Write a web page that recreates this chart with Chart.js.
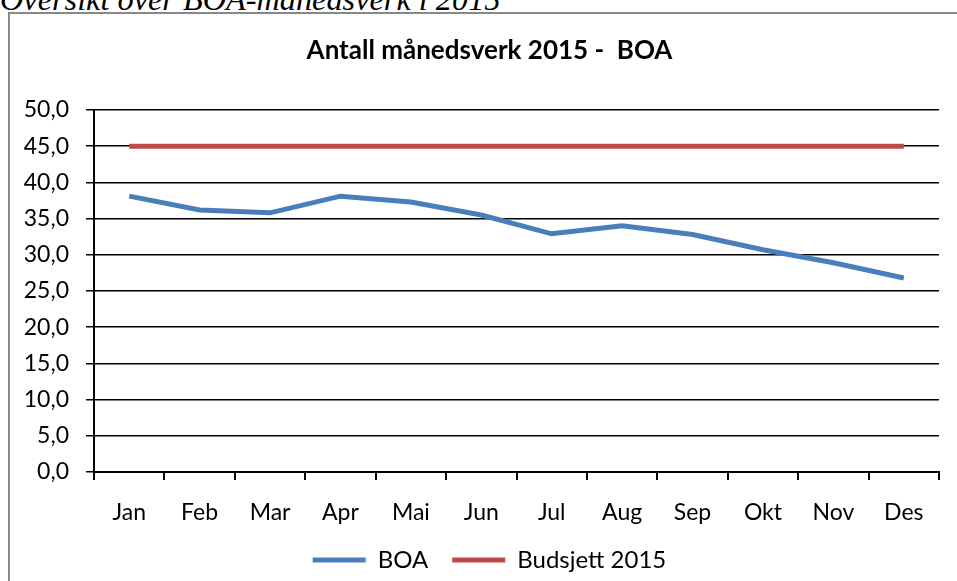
<!DOCTYPE html>
<html><head><meta charset="utf-8">
<script src="https://cdn.jsdelivr.net/npm/chart.js@4/dist/chart.umd.min.js"></script>
<style>
html,body{margin:0;padding:0;background:#fff;overflow:hidden;}
#wrap{position:relative;width:957px;height:581px;overflow:hidden;background:#fff;}
#caption{position:absolute;left:0;top:-17px;font-family:"Liberation Serif";font-style:italic;font-size:32.3px;line-height:32px;white-space:nowrap;color:#000;}
#frame{position:absolute;left:8px;top:12px;width:1000px;height:700px;border:2px solid #888;}
canvas{position:absolute;left:0;top:0;}
</style></head>
<body>
<div id="wrap">
<div id="caption">Oversikt over BOA-månedsverk i 2015</div>
<div id="frame"></div>
<canvas id="c" width="957" height="581"></canvas>
</div>
<script>
const months = ["Jan","Feb","Mar","Apr","Mai","Jun","Jul","Aug","Sep","Okt","Nov","Des"];
const boaValues = [38.1, 36.2, 35.8, 38.1, 37.3, 35.5, 32.9, 34.0, 32.8, 30.7, 28.9, 26.8];
const budsjettValues = [45, 45, 45, 45, 45, 45, 45, 45, 45, 45, 45, 45];
const seriesNames = ["BOA", "Budsjett 2015"];
const chartTitle = "Antall månedsverk 2015 -  BOA";
const yMin = 0, yMax = 50, yStep = 5;

const FONT = "Lato";
const noClip = () => undefined;
const LEGEND_PAD = 24;
const LEGEND_H = 581 - (560 - LEGEND_PAD - 12);

const legendFix = {
  id: 'legendFix',
  afterInit(chart) {
    const lg = chart.legend;
    if (!lg) return;
    const orig = lg.fit.bind(lg);
    lg.fit = function() { orig(); this.height = LEGEND_H; };
  }
};

new Chart(document.getElementById('c'), {
  type: 'line',
  data: {
    labels: months,
    datasets: [
      { label: seriesNames[0], data: boaValues, borderColor: '#4A7EBB', backgroundColor: '#4A7EBB', borderWidth: 5, pointRadius: 0, tension: 0 },
      { label: seriesNames[1], data: budsjettValues, borderColor: '#BE4B48', backgroundColor: '#BE4B48', borderWidth: 5, pointRadius: 0, tension: 0 }
    ]
  },
  options: {
    responsive: false,
    animation: false,
    layout: { padding: { left: 40, right: 18, top: 20, bottom: 0 } },
    plugins: {
      tooltip: { enabled: false },
      title: {
        display: true, text: chartTitle, color: '#000',
        font: { family: FONT, size: 26, weight: 'bold' },
        padding: { top: 15, bottom: 110 - 20 - 15 - 26 * 1.2 }
      },
      legend: {
        position: 'bottom',
        labels: {
          color: '#000', font: { family: FONT, size: 24 },
          usePointStyle: true, pointStyle: 'line', pointStyleWidth: 53,
          padding: LEGEND_PAD
        }
      }
    },
    scales: {
      x: {
        offset: true,
        grid: { display: true, offset: true, drawOnChartArea: false, drawTicks: true, tickLength: 8, color: '#000', lineWidth: 2 },
        border: { display: true, color: '#000', width: 2 },
        ticks: { color: '#000', font: { family: FONT, size: 23 }, padding: 19, maxRotation: 0, autoSkip: false },
        afterFit(scale) { scale.height = 581 - 472 - LEGEND_H; scale._computeLabelArea = noClip; }
      },
      y: {
        min: yMin, max: yMax,
        grid: { color: '#000', lineWidth: 1.5, tickLength: 8, drawTicks: true },
        border: { display: true, color: '#000', width: 2 },
        ticks: { stepSize: yStep, color: '#000', font: { family: FONT, size: 23 }, padding: 17,
          callback: v => v.toFixed(1).replace('.', ',') },
        afterFit(scale) { scale.width = 54; scale._computeLabelArea = noClip; }
      }
    }
  },
  plugins: [legendFix]
});
</script>
</body></html>
